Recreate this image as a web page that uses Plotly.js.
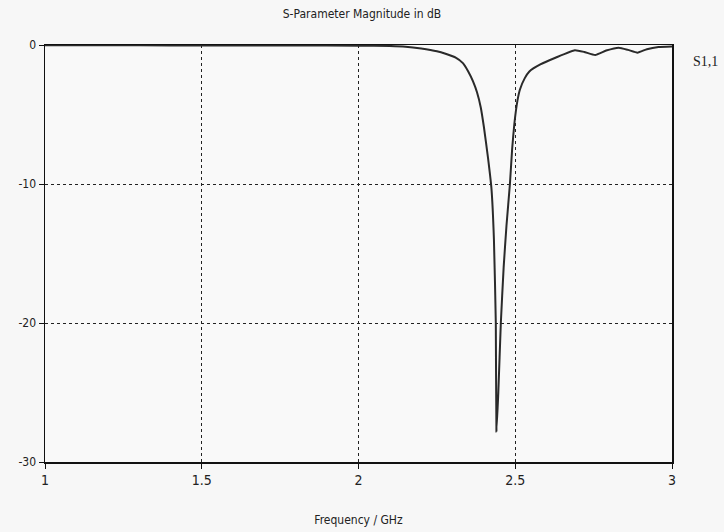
<!DOCTYPE html>
<html>
<head>
<meta charset="utf-8">
<script src="https://cdn.plot.ly/plotly-3.0.1.min.js"></script>
<style>html,body{margin:0;padding:0;background:#f7f7f7;}</style>
</head>
<body>
<div id="chart" style="width:724px;height:532px;"></div>
<script>
const freqGHz = [1.0, 1.2, 1.4, 1.6, 1.8, 2.0, 2.1, 2.15, 2.2, 2.25, 2.28, 2.31, 2.333, 2.35, 2.365, 2.378, 2.39, 2.40, 2.413, 2.424, 2.432, 2.438, 2.44, 2.446, 2.454, 2.463, 2.472, 2.483, 2.49, 2.497, 2.507, 2.515, 2.53, 2.545, 2.58, 2.63, 2.69, 2.72, 2.755, 2.79, 2.83, 2.86, 2.89, 2.92, 2.957, 3.0];
const s11dB = [-0.02, -0.02, -0.03, -0.03, -0.04, -0.05, -0.07, -0.12, -0.25, -0.45, -0.65, -0.9, -1.3, -1.9, -2.6, -3.4, -4.5, -5.9, -8.1, -10.3, -14, -20, -27.8, -25, -20, -16, -13, -10, -7.5, -5.7, -4.0, -3.2, -2.4, -1.9, -1.4, -0.9, -0.38, -0.5, -0.72, -0.4, -0.19, -0.35, -0.55, -0.3, -0.14, -0.1];
const xTicks = [1, 1.5, 2, 2.5, 3];
const xTickText = ["1", "1.5", "2", "2.5", "3"];
const yTicks = [0, -10, -20, -30];
const yTickText = ["0", "-10", "-20", "-30"];
const seriesName = "S1,1";

const trace = {
  x: freqGHz, y: s11dB, type: 'scatter', mode: 'lines',
  line: {color: '#2a2a2a', width: 2, shape: 'spline', smoothing: 0.4},
  showlegend: false, hoverinfo: 'skip'
};
const font = {family: 'DejaVu Sans Condensed, DejaVu Sans, sans-serif', size: 12, color: '#222'};
const layout = {
  width: 724, height: 532,
  paper_bgcolor: '#f7f7f7', plot_bgcolor: '#f9f9f9',
  margin: {l: 45, r: 52, t: 45, b: 70},
  font: font,
  title: {text: 'S-Parameter Magnitude in dB', font: {family: font.family, size: 12, color: '#222'}, x: 0.5, xanchor: 'center', y: 0.975, yanchor: 'middle'},
  xaxis: {
    range: [1, 3], tickvals: xTicks, ticktext: xTickText,
    showline: true, mirror: true, linecolor: '#111', linewidth: 1.5,
    showgrid: true, gridcolor: '#222', griddash: 'dot', gridwidth: 1,
    ticks: 'outside', ticklen: 5, tickcolor: '#111', zeroline: false,
    tickfont: {family: font.family, size: 14, color: '#222'},
    title: {text: 'Frequency / GHz', font: {family: font.family, size: 12, color: '#222'}, standoff: 28}
  },
  yaxis: {
    range: [-30, 0], tickvals: yTicks, ticktext: yTickText,
    showline: true, mirror: true, linecolor: '#111', linewidth: 1.5,
    showgrid: true, gridcolor: '#222', griddash: 'dot', gridwidth: 1,
    ticks: 'outside', ticklen: 5, tickcolor: '#111', zeroline: false,
    tickfont: {family: font.family, size: 12, color: '#222'}
  },
  annotations: [{
    text: seriesName, xref: 'paper', yref: 'paper', x: 1.03, y: 0.96,
    xanchor: 'left', yanchor: 'middle', showarrow: false,
    font: {family: 'Liberation Serif, serif', size: 14, color: '#222'}
  }]
};
Plotly.newPlot('chart', [trace], layout, {staticPlot: true, displayModeBar: false});
</script>
</body>
</html>
